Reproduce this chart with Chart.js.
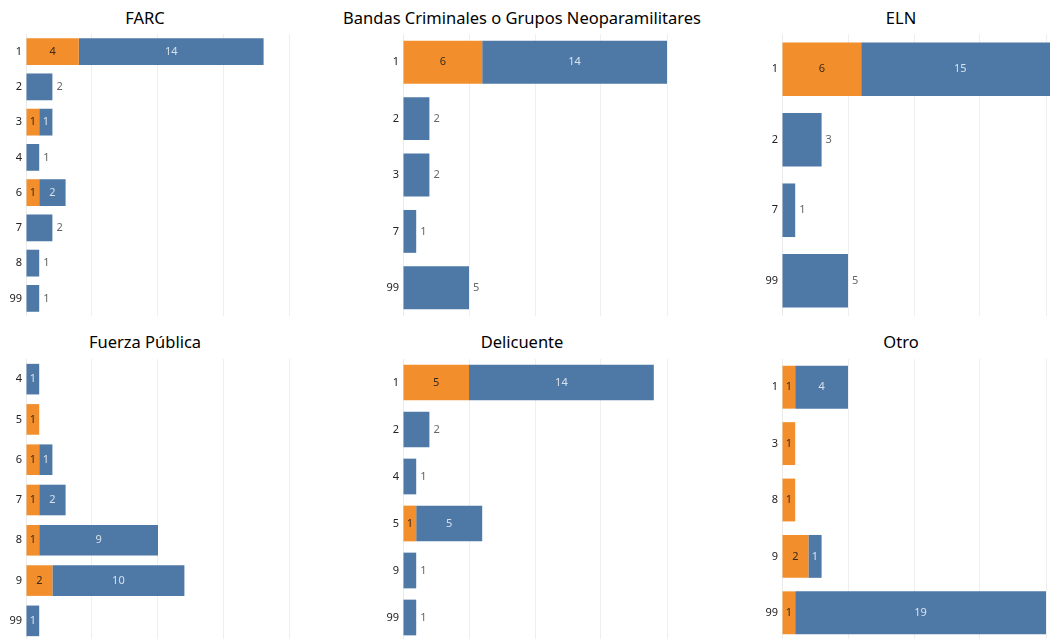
<!DOCTYPE html>
<html>
<head>
<meta charset="utf-8">
<script src="https://cdn.jsdelivr.net/npm/chart.js@4"></script>
<style>
  body { margin: 0; background: #fff; width: 1053px; height: 639px; overflow: hidden; position: relative; font-family: "Noto Sans", sans-serif; }
  .titulo { position: absolute; transform: translate(-50%, -50%); font-size: 16.5px; color: #000; white-space: nowrap; }
  canvas { position: absolute; }
</style>
</head>
<body>
<script>
// datos (null = sin barra naranja en esa fila)
const farcCategorias = ["1", "2", "3", "4", "6", "7", "8", "99"];
const farcNaranja = [4, null, 1, null, 1, null, null, null];
const farcAzul = [14, 2, 1, 1, 2, 2, 1, 1];

const bandasCategorias = ["1", "2", "3", "7", "99"];
const bandasNaranja = [6, null, null, null, null];
const bandasAzul = [14, 2, 2, 1, 5];

const elnCategorias = ["1", "2", "7", "99"];
const elnNaranja = [6, null, null, null];
const elnAzul = [15, 3, 1, 5];

const fuerzaCategorias = ["4", "5", "6", "7", "8", "9", "99"];
const fuerzaNaranja = [0, 1, 1, 1, 1, 2, 0];
const fuerzaAzul = [1, 0, 1, 2, 9, 10, 1];

const delincuenteCategorias = ["1", "2", "4", "5", "9", "99"];
const delincuenteNaranja = [5, null, null, 1, null, null];
const delincuenteAzul = [14, 2, 1, 5, 1, 1];

const otroCategorias = ["1", "3", "8", "9", "99"];
const otroNaranja = [1, 1, 1, 2, 1];
const otroAzul = [4, 0, 0, 1, 19];

const NARANJA = "#F28E2B";
const AZUL = "#4E79A7";

// paneles: titulo, datos y donde va cada uno
const paneles = [
  { titulo: "FARC", cats: farcCategorias, nar: farcNaranja, azu: farcAzul, eje: 26, fin: 329, top: 34, tx: 145, ty: 17 },
  { titulo: "Bandas Criminales o Grupos Neoparamilitares", cats: bandasCategorias, nar: bandasNaranja, azu: bandasAzul, eje: 403, fin: 709, top: 34, tx: 522, ty: 17 },
  { titulo: "ELN", cats: elnCategorias, nar: elnNaranja, azu: elnAzul, eje: 782, fin: 1050, top: 34, tx: 901, ty: 17 },
  { titulo: "Fuerza Pública", cats: fuerzaCategorias, nar: fuerzaNaranja, azu: fuerzaAzul, eje: 26, fin: 329, top: 359, tx: 145, ty: 341 },
  { titulo: "Delicuente", cats: delincuenteCategorias, nar: delincuenteNaranja, azu: delincuenteAzul, eje: 403, fin: 709, top: 359, tx: 522, ty: 341 },
  { titulo: "Otro", cats: otroCategorias, nar: otroNaranja, azu: otroAzul, eje: 782, fin: 1050, top: 359, tx: 901, ty: 341 }
];

const ANCHO_EJE = 40;
const ALTO = 282;
const PX_UNIDAD = 13.2;

// etiquetas de valor: dentro si la fila tiene naranja, si no a la derecha
const etiquetas = {
  id: "etiquetas",
  afterDatasetsDraw(chart) {
    const ctx = chart.ctx;
    const nar = chart.data.datasets[0].data;
    ctx.save();
    ctx.font = "11px 'Noto Sans', sans-serif";
    ctx.textBaseline = "middle";
    chart.data.datasets.forEach((ds, d) => {
      const meta = chart.getDatasetMeta(d);
      meta.data.forEach((bar, i) => {
        const v = ds.data[i];
        if (!v) return;
        const dentro = nar[i] !== null;
        if (dentro) {
          ctx.textAlign = "center";
          ctx.fillStyle = d === 0 ? "#3a2a1a" : "#d8e1ec";
          ctx.fillText(v, (bar.x + bar.base) / 2, bar.y);
        } else {
          ctx.textAlign = "left";
          ctx.fillStyle = "#666";
          ctx.fillText(v, bar.x + 4, bar.y);
        }
      });
    });
    ctx.restore();
  }
};

paneles.forEach(p => {
  const t = document.createElement("div");
  t.className = "titulo";
  t.textContent = p.titulo;
  t.style.left = p.tx + "px";
  t.style.top = p.ty + "px";
  document.body.appendChild(t);

  const c = document.createElement("canvas");
  const ancho = ANCHO_EJE + (p.fin - p.eje);
  c.width = ancho;
  c.height = ALTO;
  c.style.left = (p.eje - ANCHO_EJE) + "px";
  c.style.top = p.top + "px";
  c.style.width = ancho + "px";
  c.style.height = ALTO + "px";
  document.body.appendChild(c);

  new Chart(c, {
    type: "bar",
    data: {
      labels: p.cats,
      datasets: [
        { data: p.nar, backgroundColor: NARANJA, barPercentage: 1, categoryPercentage: 0.76 },
        { data: p.azu, backgroundColor: AZUL, barPercentage: 1, categoryPercentage: 0.76 }
      ]
    },
    options: {
      indexAxis: "y",
      responsive: false,
      animation: false,
      layout: { padding: 0 },
      plugins: { legend: { display: false }, tooltip: { enabled: false } },
      scales: {
        x: {
          stacked: true,
          min: 0,
          max: (p.fin - p.eje) / PX_UNIDAD,
          ticks: { display: false, stepSize: 5, includeBounds: false },
          grid: { color: "#efefef", drawTicks: false },
          border: { color: "#eaeaea" }
        },
        y: {
          stacked: true,
          grid: { display: false, drawTicks: false },
          border: { color: "#eaeaea" },
          ticks: { color: "#222", padding: 4, font: { family: "'Noto Sans', sans-serif", size: 11 } },
          afterFit: s => {
            s.width = ANCHO_EJE;
            s.paddingTop = 0;
            s.paddingBottom = 0;
          }
        }
      }
    },
    plugins: [etiquetas]
  });
});
</script>
</body>
</html>
